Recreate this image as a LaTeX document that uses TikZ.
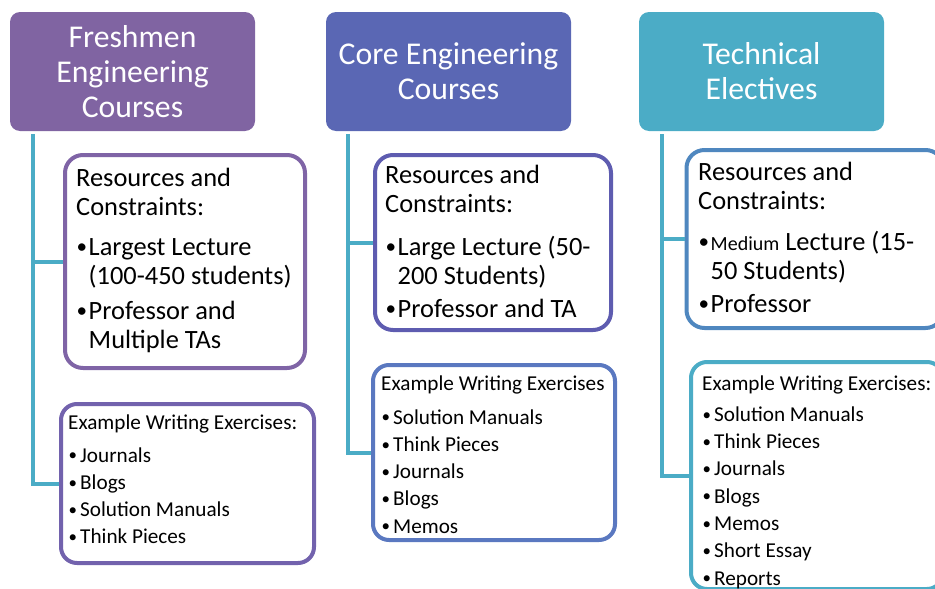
\documentclass[tikz,border=0pt]{standalone}
\usepackage{graphicx}
\usepackage{fontspec}
\setmainfont{Carlito}
\definecolor{hA}{HTML}{8064A2}
\definecolor{rA}{HTML}{7F64A6}
\definecolor{eA}{HTML}{7262AD}
\definecolor{hB}{HTML}{5A67B4}
\definecolor{rB}{HTML}{5E5CB0}
\definecolor{eB}{HTML}{5A78C0}
\definecolor{hC}{HTML}{4BACC6}
\definecolor{rC}{HTML}{4F87BF}
\definecolor{eC}{HTML}{4BACC6}
\definecolor{connC}{HTML}{4BACC6}
\newcommand{\bdot}{\raisebox{0.06em}{\scalebox{0.8}{•}}}
\newcommand{\bul}{\makebox[12pt][l]{\hspace{0.5pt}\bdot}}
\newcommand{\bulb}{\makebox[12.5pt][l]{\hspace{0.5pt}\bdot}}
\newcommand{\ind}{\hspace*{12.5pt}}
\begin{document}
\begin{tikzpicture}[x=1pt,y=-1pt,
  hdr/.style={rectangle, rounded corners=10pt, minimum width=245pt, minimum height=119pt,
    text=white, align=center, inner sep=0pt, font=\fontsize{31.7}{35}\selectfont},
  card/.style={rectangle, draw, line width=4pt, rounded corners=18pt, fill=white, inner sep=0pt},
  conn/.style={draw=connC, line width=4pt},
  rtxt/.style={anchor=base west, inner sep=0pt, font=\fontsize{26.4}{29}\selectfont},
  etxt/.style={anchor=base west, inner sep=0pt, font=\fontsize{21.2}{27.3}\selectfont}]
\useasboundingbox (0,0) rectangle (935,589);
\clip (0,0) rectangle (935,589);

% headers
\node[hdr, fill=hA] (h1) at (132.5,71.5) {Freshmen\\Engineering\\Courses};
\node[hdr, fill=hB] (h2) at (448.5,71.5) {Core Engineering\\Courses};
\node[hdr, fill=hC] (h3) at (761.5,71.5) {Technical\\Electives};

% connector tops
\coordinate (c1) at ([xshift=23pt,yshift=-3pt]h1.south west);
\coordinate (c2) at ([xshift=22pt,yshift=-3pt]h2.south west);
\coordinate (c3) at ([xshift=23pt,yshift=-3pt]h3.south west);

% cards
\node[card, draw=rA, minimum width=240pt, minimum height=213pt] (r1) at (185,261.5) {};
\node[card, draw=eA, minimum width=253pt, minimum height=159pt, rounded corners=16pt] (e1) at (187.5,483.5) {};
\node[card, draw=rB, minimum width=236pt, minimum height=175pt] (r2) at (493,242.5) {};
\node[card, draw=eB, minimum width=242pt, minimum height=175pt, rounded corners=16pt] (e2) at (494,452.5) {};
\node[card, draw=rC, minimum width=257pt, minimum height=178pt] (r3) at (815,239) {};
\node[card, draw=eC, minimum width=252pt, minimum height=227pt, rounded corners=16pt] (e3) at (817,475.5) {};

% connectors
\draw[conn] (c1) |- (r1.west);
\draw[conn] (c1) |- (e1.west);
\draw[conn] (c2) |- (r2.west);
\draw[conn] (c2) |- (e2.west);
\draw[conn] (c3) |- (r3.west);
\draw[conn] (c3) |- (e3.west);

% texts in resource cards
\node[rtxt] (t1) at (76,186.5) {\parbox[t]{230pt}{Resources and\\Constraints:\\[11pt]\bulb Largest Lecture\\\ind(100-450 students)\\[6pt]\bulb Professor and\\\ind Multiple TAs}};
\node[rtxt] (t2) at (385,183.5) {\parbox[t]{230pt}{Resources and\\Constraints:\\[14pt]\bulb Large Lecture (50-\\\ind 200 Students)\\[4pt]\bulb Professor and TA}};
\node[rtxt] (t3) at (698,180.5) {\parbox[t]{240pt}{Resources and\\Constraints:\\[12pt]\bulb{\fontsize{20}{24}\selectfont Medium} Lecture (15-\\\ind 50 Students)\\[4pt]\bulb Professor}};

% texts in example cards
\node[etxt] (u1) at (68,429) {\parbox[t]{245pt}{Example Writing Exercises:\\[5.7pt]\bul Journals\\\bul Blogs\\\bul Solution Manuals\\\bul Think Pieces}};
\node[etxt] (u2) at (381,390) {\parbox[t]{235pt}{Example Writing Exercises\\[6.7pt]\bul Solution Manuals\\\bul Think Pieces\\\bul Journals\\\bul Blogs\\\bul Memos}};
\node[etxt] (u3) at (702,390) {\parbox[t]{240pt}{Example Writing Exercises:\\[4pt]\bul Solution Manuals\\\bul Think Pieces\\\bul Journals\\\bul Blogs\\\bul Memos\\\bul Short Essay\\\bul Reports}};
\end{tikzpicture}
\end{document}
